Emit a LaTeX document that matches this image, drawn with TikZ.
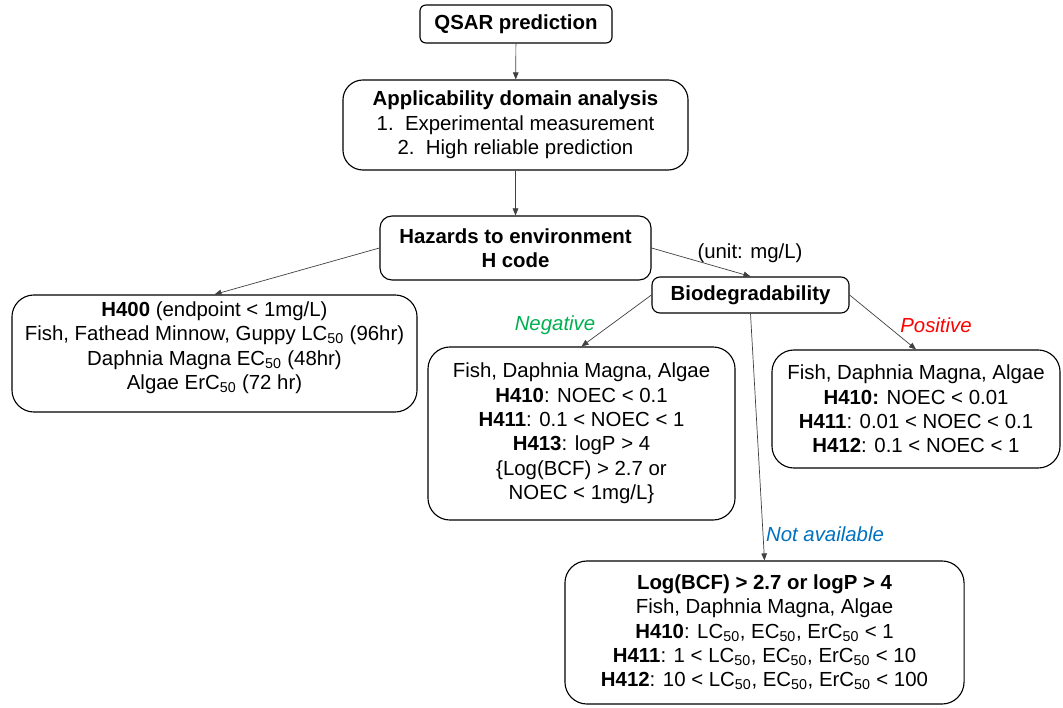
\documentclass[tikz,border=0pt]{standalone}
\usepackage{fontspec}
\setmainfont{Liberation Sans}
\usetikzlibrary{arrows.meta}

\definecolor{neggreen}{RGB}{0,176,80}
\definecolor{posred}{RGB}{255,0,0}
\definecolor{nablue}{RGB}{0,112,192}

\begin{document}
\begin{tikzpicture}[x=0.025cm,y=-0.025cm,
  every node/.style={font=\fontsize{14.5}{17.3}\selectfont},
  box/.style={draw,line width=0.8pt,rounded corners=0.55cm,align=center,inner sep=0pt},
  link/.style={draw=black!75,line width=0.5pt,-{Triangle[length=5pt,width=4pt]}},
  branch/.style={font=\fontsize{14.5}{17.3}\selectfont\itshape}]

% 画布大小
\useasboundingbox (0,0) rectangle (1063,708);

% 上部三个框
\node[box,rounded corners=0.15cm,minimum width=4.8cm,minimum height=0.95cm] (qsar) at (516,24) {\textbf{QSAR prediction}};
\node[box,rounded corners=0.5cm,minimum width=8.625cm,minimum height=2.25cm] (apply) at (515.5,125)
  {\textbf{Applicability domain analysis}\\1.\ \ Experimental measurement\\2.\ \ High reliable prediction};
\node[box,rounded corners=0.3cm,minimum width=6.775cm,minimum height=1.6cm] (hazard) at (515.5,248)
  {\textbf{Hazards to environment}\\\textbf{H code}};

% H400
\node[box,minimum width=10.125cm,minimum height=2.925cm] (h400) at (214.5,353.5)
  {\textbf{H400} (endpoint < 1mg/L)\\Fish, Fathead Minnow, Guppy LC\textsubscript{50} (96hr)\\Daphnia Magna EC\textsubscript{50} (48hr)\\Algae ErC\textsubscript{50} (72 hr)\\[-6pt]};

% 生物降解性
\node[box,rounded corners=0.2cm,minimum width=4.925cm,minimum height=0.9cm] (biodeg) at (750.5,295) {\textbf{Biodegradability}};

% 三个分支
\node[box,minimum width=7.675cm,minimum height=4.325cm] (neg) at (581.5,433.5)
  {Fish, Daphnia Magna, Algae\\\textbf{H410}: NOEC < 0.1\\\textbf{H411}: 0.1 < NOEC < 1\\\textbf{H413}: logP > 4\\\{Log(BCF) > 2.7 or\\NOEC < 1mg/L\}};
\node[box,minimum width=7.2cm,minimum height=2.95cm] (pos) at (916,409)
  {Fish, Daphnia Magna, Algae\\\textbf{H410:} NOEC < 0.01\\\textbf{H411}: 0.01 < NOEC < 0.1\\\textbf{H412}: 0.1 < NOEC < 1};
\node[box,minimum width=9.975cm,minimum height=3.575cm] (notav) at (764.5,632.5)
  {\textbf{Log(BCF) > 2.7 or logP > 4}\\Fish, Daphnia Magna, Algae\\\textbf{H410}: LC\textsubscript{50}, EC\textsubscript{50}, ErC\textsubscript{50} < 1\\\textbf{H411}: 1 < LC\textsubscript{50}, EC\textsubscript{50}, ErC\textsubscript{50} < 10\\\textbf{H412}: 10 < LC\textsubscript{50}, EC\textsubscript{50}, ErC\textsubscript{50} < 100};

% 标签
\node (unit) at (750,253) {(unit: mg/L)};
\node[branch,text=neggreen] (neglabel) at (555,325) {Negative};
\node[branch,text=posred] (poslabel) at (936,325) {Positive};
\node[branch,text=nablue] (nalabel) at (825,534) {Not available};

% 箭头
\draw[link] (qsar) -- (apply);
\draw[link] (apply) -- (hazard);
\draw[link] (hazard.west) -- (h400.north);
\draw[link] (hazard.east) -- (biodeg.north);
\draw[link] (biodeg.west) -- (neg.north);
\draw[link] (biodeg.east) -- (pos.north);
\draw[link] (biodeg.south) -- (notav.north);

\end{tikzpicture}
\end{document}
